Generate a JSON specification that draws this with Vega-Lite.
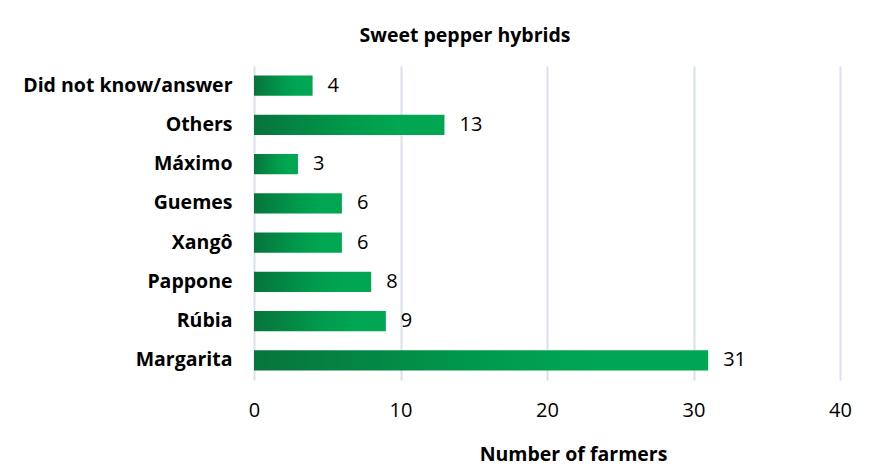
{
  "$schema": "https://vega.github.io/schema/vega-lite/v6.json",
  "autosize": {"type": "none"},
  "width": 586,
  "height": 314,
  "padding": {"left": 254, "top": 66, "right": 33, "bottom": 89},
  "background": "white",
  "title": {
    "text": "Sweet pepper hybrids",
    "font": "Open Sans",
    "fontSize": 19.5,
    "fontWeight": "bold",
    "color": "#000000",
    "anchor": "middle",
    "dx": -82,
    "offset": 20
  },
  "data": {
    "values": [
      {"hybrid": "Did not know/answer", "farmers": 4},
      {"hybrid": "Others", "farmers": 13},
      {"hybrid": "Máximo", "farmers": 3},
      {"hybrid": "Guemes", "farmers": 6},
      {"hybrid": "Xangô", "farmers": 6},
      {"hybrid": "Pappone", "farmers": 8},
      {"hybrid": "Rúbia", "farmers": 9},
      {"hybrid": "Margarita", "farmers": 31}
    ]
  },
  "encoding": {
    "y": {
      "field": "hybrid",
      "type": "nominal",
      "sort": null,
      "scale": {"paddingInner": 0.49, "paddingOuter": 0.245},
      "axis": {
        "title": null,
        "domain": false,
        "ticks": false,
        "labelFont": "Open Sans",
        "labelFontSize": 19.5,
        "labelFontWeight": "bold",
        "labelColor": "#000000",
        "labelPadding": 22,
        "labelLimit": 400
      }
    },
    "x": {
      "field": "farmers",
      "type": "quantitative",
      "scale": {"domain": [0, 40]},
      "axis": {
        "values": [0, 10, 20, 30, 40],
        "title": "Number of farmers",
        "titleFont": "Open Sans",
        "titleFontSize": 19.5,
        "titleFontWeight": "bold",
        "titleColor": "#000000",
        "titleX": 319,
        "titleY": 74,
        "titleBaseline": "middle",
        "domain": false,
        "ticks": false,
        "grid": true,
        "gridColor": "#d9e2ec",
        "gridWidth": 2,
        "labelFlush": false,
        "labelFont": "Open Sans",
        "labelFontSize": 20,
        "labelColor": "#000000",
        "labelPadding": 20
      }
    }
  },
  "layer": [
    {
      "mark": {
        "type": "bar",
        "color": {
          "gradient": "linear",
          "x1": 0, "y1": 0, "x2": 1, "y2": 0,
          "stops": [
            {"offset": 0, "color": "#07743c"},
            {"offset": 0.5, "color": "#009a4c"},
            {"offset": 0.75, "color": "#00a651"},
            {"offset": 1, "color": "#00a651"}
          ]
        }
      }
    },
    {
      "mark": {
        "type": "text",
        "align": "left",
        "baseline": "middle",
        "dx": 15,
        "font": "Open Sans",
        "fontSize": 20,
        "color": "#000000"
      },
      "encoding": {"text": {"field": "farmers", "type": "quantitative"}}
    }
  ],
  "config": {"view": {"stroke": null}}
}
